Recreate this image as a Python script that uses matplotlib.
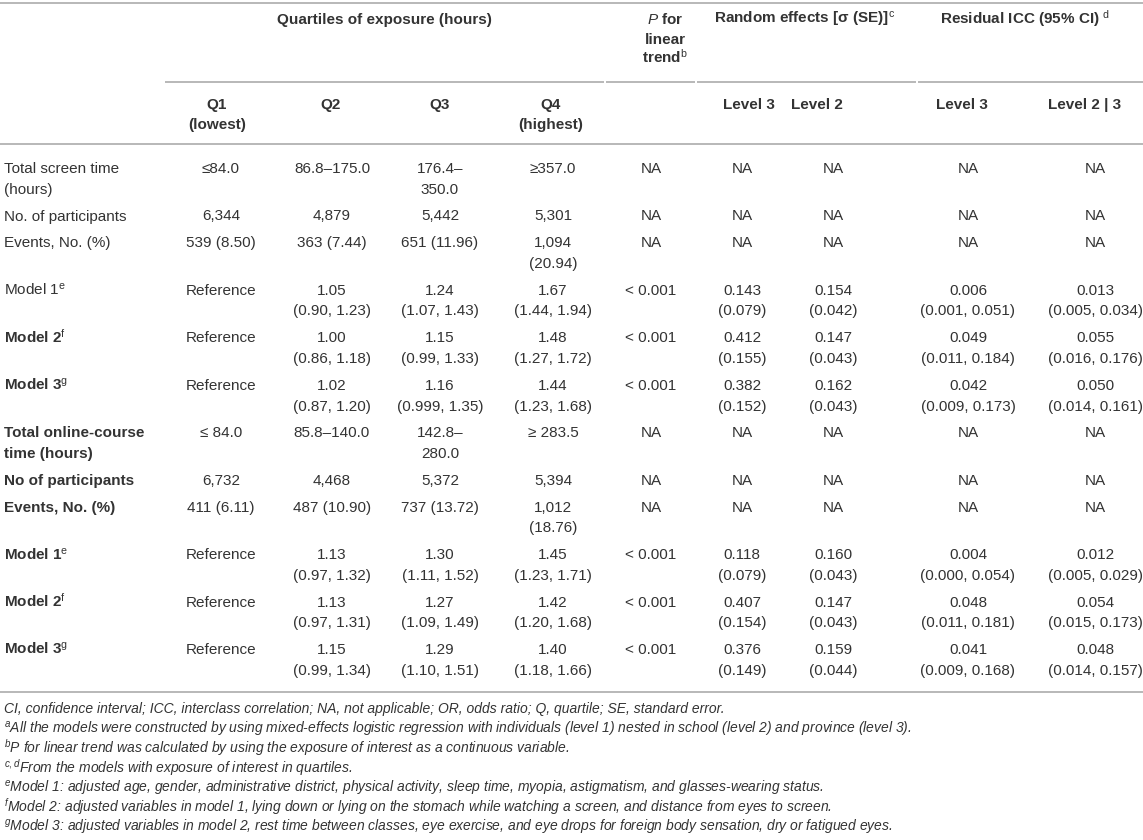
import matplotlib.pyplot as plt

plt.rcParams['font.family'] = ['Liberation Sans', 'DejaVu Sans']
plt.rcParams['mathtext.fontset'] = 'custom'
plt.rcParams['mathtext.rm'] = 'Liberation Sans'
plt.rcParams['mathtext.it'] = 'Liberation Sans:italic'
plt.rcParams['mathtext.bf'] = 'Liberation Sans:bold'

# table content
row_labels = [
    'Total screen time\n(hours)',
    'No. of participants',
    'Events, No. (%)',
    'Model 1$^{\\mathrm{e}}$',
    'Model 2$^{\\mathrm{f}}$',
    'Model 3$^{\\mathrm{g}}$',
    'Total online-course\ntime (hours)',
    'No of participants',
    'Events, No. (%)',
    'Model 1$^{\\mathrm{e}}$',
    'Model 2$^{\\mathrm{f}}$',
    'Model 3$^{\\mathrm{g}}$',
]
bold_rows = [False, False, False, False, True, True,
             True, True, True, True, True, True]

q1 = ['≤84.0', '6,344', '539 (8.50)', 'Reference', 'Reference', 'Reference',
      '≤ 84.0', '6,732', '411 (6.11)', 'Reference', 'Reference', 'Reference']
q2 = ['86.8–175.0', '4,879', '363 (7.44)', '1.05\n(0.90, 1.23)',
      '1.00\n(0.86, 1.18)', '1.02\n(0.87, 1.20)',
      '85.8–140.0', '4,468', '487 (10.90)', '1.13\n(0.97, 1.32)',
      '1.13\n(0.97, 1.31)', '1.15\n(0.99, 1.34)']
q3 = ['176.4–\n350.0', '5,442', '651 (11.96)', '1.24\n(1.07, 1.43)',
      '1.15\n(0.99, 1.33)', '1.16\n(0.999, 1.35)',
      '142.8–\n280.0', '5,372', '737 (13.72)', '1.30\n(1.11, 1.52)',
      '1.27\n(1.09, 1.49)', '1.29\n(1.10, 1.51)']
q4 = ['≥357.0', '5,301', '1,094\n(20.94)', '1.67\n(1.44, 1.94)',
      '1.48\n(1.27, 1.72)', '1.44\n(1.23, 1.68)',
      '≥ 283.5', '5,394', '1,012\n(18.76)', '1.45\n(1.23, 1.71)',
      '1.42\n(1.20, 1.68)', '1.40\n(1.18, 1.66)']
p_trend = ['NA', 'NA', 'NA', '< 0.001', '< 0.001', '< 0.001',
           'NA', 'NA', 'NA', '< 0.001', '< 0.001', '< 0.001']
re_level3 = ['NA', 'NA', 'NA', '0.143\n(0.079)', '0.412\n(0.155)', '0.382\n(0.152)',
             'NA', 'NA', 'NA', '0.118\n(0.079)', '0.407\n(0.154)', '0.376\n(0.149)']
re_level2 = ['NA', 'NA', 'NA', '0.154\n(0.042)', '0.147\n(0.043)', '0.162\n(0.043)',
             'NA', 'NA', 'NA', '0.160\n(0.043)', '0.147\n(0.043)', '0.159\n(0.044)']
icc_level3 = ['NA', 'NA', 'NA', '0.006\n(0.001, 0.051)', '0.049\n(0.011, 0.184)',
              '0.042\n(0.009, 0.173)',
              'NA', 'NA', 'NA', '0.004\n(0.000, 0.054)', '0.048\n(0.011, 0.181)',
              '0.041\n(0.009, 0.168)']
icc_level23 = ['NA', 'NA', 'NA', '0.013\n(0.005, 0.034)', '0.055\n(0.016, 0.176)',
               '0.050\n(0.014, 0.161)',
               'NA', 'NA', 'NA', '0.012\n(0.005, 0.029)', '0.054\n(0.015, 0.173)',
               '0.048\n(0.014, 0.157)']

sub_headers = ['Q1\n(lowest)', 'Q2', 'Q3', 'Q4\n(highest)', '',
               'Level 3', 'Level 2', 'Level 3', 'Level 2 | 3']

footnotes = [
    'CI, confidence interval; ICC, interclass correlation; NA, not applicable; OR, odds ratio; Q, quartile; SE, standard error.',
    '$^{a}$All the models were constructed by using mixed-effects logistic regression with individuals (level 1) nested in school (level 2) and province (level 3).',
    '$^{b}$P for linear trend was calculated by using the exposure of interest as a continuous variable.',
    '$^{c,d}$From the models with exposure of interest in quartiles.',
    '$^{e}$Model 1: adjusted age, gender, administrative district, physical activity, sleep time, myopia, astigmatism, and glasses-wearing status.',
    '$^{f}$Model 2: adjusted variables in model 1, lying down or lying on the stomach while watching a screen, and distance from eyes to screen.',
    '$^{g}$Model 3: adjusted variables in model 2, rest time between classes, eye exercise, and eye drops for foreign body sensation, dry or fatigued eyes.',
]

columns = [q1, q2, q3, q4, p_trend, re_level3, re_level2, icc_level3, icc_level23]
col_x = [221, 332, 440, 553, 651, 742, 833, 968, 1095]
head_x = [217, 331, 440, 551, 665, 749, 817, 962, 1085]

txt = '#333333'
rule = '#b8b8b8'
fs = 11
base = 5  # offset from visual line centre to baseline

fig, ax = plt.subplots(figsize=(11.43, 8.4), dpi=100)
ax.set_position([0, 0, 1, 1])
ax.set_xlim(0, 1143)
ax.set_ylim(840, 0)
ax.axis('off')

# rules
ax.hlines([3, 144, 692], 0, 1143, color=rule, lw=1.4)
for x0, x1 in [(165, 604), (606, 695), (697, 916), (918, 1143)]:
    ax.hlines(82, x0, x1, color=rule, lw=1.4)

# group headers
ax.text(384, 19 + base, 'Quartiles of exposure (hours)', ha='center', va='baseline',
        fontsize=fs, fontweight='bold', color=txt)
for i, s in enumerate(['$\\mathit{P}$ for', 'linear', 'trend$^{\\mathrm{b}}$']):
    ax.text(665, 19 + 19.5 * i + base, s, ha='center', va='baseline',
            fontsize=fs, fontweight='bold', color=txt)
ax.text(805, 19 + base, 'Random effects [σ (SE)]$^{\\mathrm{c}}$', ha='center',
        va='baseline', fontsize=fs, fontweight='bold', color=txt)
ax.text(1025, 19 + base, 'Residual ICC (95% CI) $^{\\mathrm{d}}$', ha='center',
        va='baseline', fontsize=fs, fontweight='bold', color=txt)

for x, h in zip(head_x, sub_headers):
    for k, line in enumerate(h.split('\n')):
        ax.text(x, 104 + 20.5 * k + base, line, ha='center', va='baseline',
                fontsize=fs, fontweight='bold', color=txt)

# body rows
y = 168
for r, label in enumerate(row_labels):
    w = 'bold' if bold_rows[r] else 'normal'
    n_lines = len(label.split('\n'))
    for k, line in enumerate(label.split('\n')):
        ax.text(4, y + 20.7 * k + base, line, ha='left', va='baseline',
                fontsize=fs, fontweight=w, color=txt)
    for x, col in zip(col_x, columns):
        parts = col[r].split('\n')
        for k, line in enumerate(parts):
            ax.text(x, y + 20.7 * k + base, line, ha='center', va='baseline',
                    fontsize=fs, color=txt)
        n_lines = max(n_lines, len(parts))
    y += 20.7 * (n_lines - 1) + 26.8

# footnotes
for i, s in enumerate(footnotes):
    ax.text(4, 709 + 19.7 * i + 4.5, s, ha='left', va='baseline', fontsize=10,
            style='italic', color=txt)

fig.savefig('out.png', dpi=100)
